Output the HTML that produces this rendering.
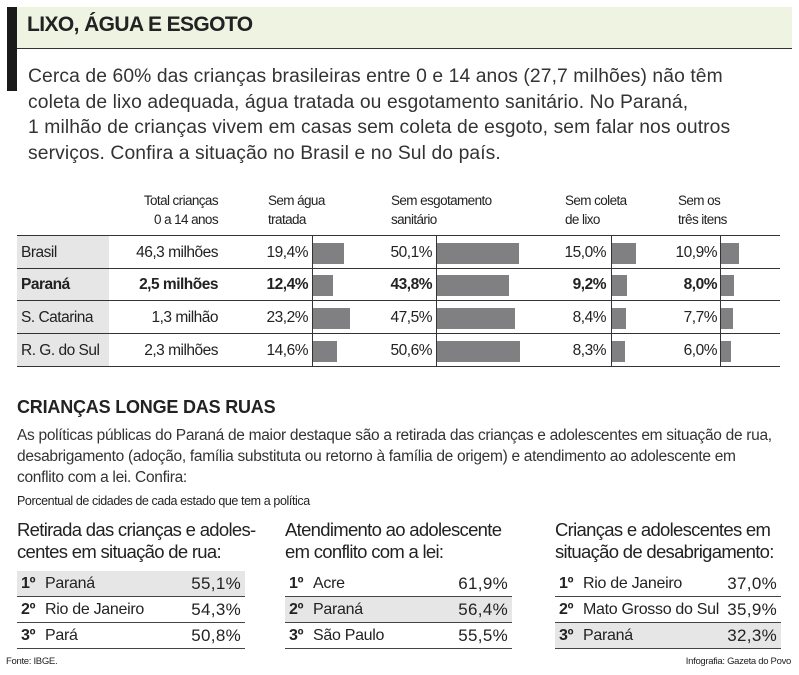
<!DOCTYPE html>
<html><head><meta charset="utf-8"><style>
*{margin:0;padding:0;box-sizing:border-box}
body{width:799px;height:675px;background:#fff;position:relative;overflow:hidden;font-family:"Liberation Sans Narrow","Liberation Sans",sans-serif;color:#222}
.a{position:absolute;white-space:nowrap}
.th{font-size:13.5px;line-height:19px;letter-spacing:-0.6px;color:#222}
.r{text-align:right}
.cell{font-size:15.5px;letter-spacing:-0.5px;line-height:33px}
.bar{position:absolute;background:#808083;height:21px}
.hl{position:absolute;height:1px;background:#333}
.vl{position:absolute;width:1px;background:#333}
.bt{font-size:18.5px;line-height:22px;letter-spacing:-0.7px;color:#222}
.row{position:absolute;height:26px;font-size:16px;line-height:26px;border-bottom:1px solid #444;letter-spacing:-0.3px}
.row b{font-weight:bold;display:inline-block;width:24px;margin-left:4px}
.row span.v{position:absolute;right:4px;font-size:17px;letter-spacing:0.3px}
.g{background:#e6e6e6}
</style></head><body>
<div class="a" style="left:17px;top:7px;width:775px;height:42px;background:#eef3e2;border-bottom:1px solid #333"></div>
<div class="a" style="left:7px;top:7px;width:10px;height:84px;background:#1a1a1a"></div>
<div class="a" style="left:27px;top:13px;font-size:21px;font-weight:bold;letter-spacing:-0.6px;color:#222">LIXO, ÁGUA E ESGOTO</div>
<div class="a" style="left:28px;top:64px;font-family:'Liberation Sans',sans-serif;font-size:19.3px;line-height:25.7px;color:#333;letter-spacing:0.1px">Cerca de 60% das crianças brasileiras entre 0 e 14 anos (27,7 milhões) não têm<br>coleta de lixo adequada, água tratada ou esgotamento sanitário. No Paraná,<br>1 milhão de crianças vivem em casas sem coleta de esgoto, sem falar nos outros<br>serviços. Confira a situação no Brasil e no Sul do país.</div>

<div class="a th r" style="right:581px;top:191px">Total crianças<br>0 a 14 anos</div>
<div class="a th" style="left:268px;top:191px">Sem água<br>tratada</div>
<div class="a th" style="left:391px;top:191px">Sem esgotamento<br>sanitário</div>
<div class="a th" style="left:565px;top:191px">Sem coleta<br>de lixo</div>
<div class="a th" style="left:678px;top:191px">Sem os<br>três itens</div>

<div class="a" style="left:17px;top:235px;width:92px;height:131px;background:#e6e6e6"></div>
<div class="hl" style="left:17px;top:235px;width:763px"></div>
<div class="hl" style="left:17px;top:268px;width:763px"></div>
<div class="hl" style="left:17px;top:300px;width:763px"></div>
<div class="hl" style="left:17px;top:333px;width:763px"></div>
<div class="hl" style="left:17px;top:366px;width:763px"></div>
<div class="vl" style="left:312px;top:235px;height:131px"></div>
<div class="vl" style="left:436px;top:235px;height:131px"></div>
<div class="vl" style="left:611px;top:235px;height:131px"></div>
<div class="vl" style="left:720px;top:235px;height:131px"></div>

<div class="a cell" style="left:21px;top:236px">Brasil</div>
<div class="a cell r" style="right:581px;top:236px">46,3 milhões</div>
<div class="a cell r" style="right:491px;top:236px">19,4%</div>
<div class="a cell r" style="right:367px;top:236px">50,1%</div>
<div class="a cell r" style="right:193px;top:236px">15,0%</div>
<div class="a cell r" style="right:82px;top:236px">10,9%</div>

<div class="a cell" style="left:21px;top:268px;font-weight:bold">Paraná</div>
<div class="a cell r" style="right:581px;top:268px;font-weight:bold">2,5 milhões</div>
<div class="a cell r" style="right:491px;top:268px;font-weight:bold">12,4%</div>
<div class="a cell r" style="right:367px;top:268px;font-weight:bold">43,8%</div>
<div class="a cell r" style="right:193px;top:268px;font-weight:bold">9,2%</div>
<div class="a cell r" style="right:82px;top:268px;font-weight:bold">8,0%</div>

<div class="a cell" style="left:21px;top:301px">S. Catarina</div>
<div class="a cell r" style="right:581px;top:301px">1,3 milhão</div>
<div class="a cell r" style="right:491px;top:301px">23,2%</div>
<div class="a cell r" style="right:367px;top:301px">47,5%</div>
<div class="a cell r" style="right:193px;top:301px">8,4%</div>
<div class="a cell r" style="right:82px;top:301px">7,7%</div>

<div class="a cell" style="left:21px;top:334px">R. G. do Sul</div>
<div class="a cell r" style="right:581px;top:334px">2,3 milhões</div>
<div class="a cell r" style="right:491px;top:334px">14,6%</div>
<div class="a cell r" style="right:367px;top:334px">50,6%</div>
<div class="a cell r" style="right:193px;top:334px">8,3%</div>
<div class="a cell r" style="right:82px;top:334px">6,0%</div>

<div class="bar" style="left:313px;top:243px;width:31px"></div>
<div class="bar" style="left:313px;top:275px;width:20px"></div>
<div class="bar" style="left:313px;top:308px;width:37px"></div>
<div class="bar" style="left:313px;top:341px;width:24px"></div>
<div class="bar" style="left:437px;top:243px;width:82px"></div>
<div class="bar" style="left:437px;top:275px;width:72px"></div>
<div class="bar" style="left:437px;top:308px;width:78px"></div>
<div class="bar" style="left:437px;top:341px;width:83px"></div>
<div class="bar" style="left:612px;top:243px;width:24px"></div>
<div class="bar" style="left:612px;top:275px;width:15px"></div>
<div class="bar" style="left:612px;top:308px;width:14px"></div>
<div class="bar" style="left:612px;top:341px;width:13px"></div>
<div class="bar" style="left:721px;top:243px;width:18px"></div>
<div class="bar" style="left:721px;top:275px;width:13px"></div>
<div class="bar" style="left:721px;top:308px;width:12px"></div>
<div class="bar" style="left:721px;top:341px;width:10px"></div>

<div class="a" style="left:17px;top:397px;font-size:18px;font-weight:bold;letter-spacing:-0.2px;color:#222">CRIANÇAS LONGE DAS RUAS</div>
<div class="a" style="left:17px;top:425px;font-size:15.5px;line-height:21px;letter-spacing:-0.3px;color:#333">As políticas públicas do Paraná de maior destaque são a retirada das crianças e adolescentes em situação de rua,<br>desabrigamento (adoção, família substituta ou retorno à família de origem) e atendimento ao adolescente em<br>conflito com a lei. Confira:</div>
<div class="a" style="left:17px;top:494px;font-size:12.5px;letter-spacing:-0.4px;color:#222">Porcentual de cidades de cada estado que tem a política</div>

<div class="a bt" style="left:17px;top:519px">Retirada das crianças e adoles-<br>centes em situação de rua:</div>
<div class="a bt" style="left:285px;top:519px">Atendimento ao adolescente<br>em conflito com a lei:</div>
<div class="a bt" style="left:555px;top:519px">Crianças e adolescentes em<br>situação de desabrigamento:</div>

<div class="row g" style="left:17px;top:571px;width:228px"><b>1º</b>Paraná<span class="v">55,1%</span></div>
<div class="row" style="left:17px;top:597px;width:228px"><b>2º</b>Rio de Janeiro<span class="v">54,3%</span></div>
<div class="row" style="left:17px;top:623px;width:228px"><b>3º</b>Pará<span class="v">50,8%</span></div>

<div class="row" style="left:285px;top:571px;width:227px"><b>1º</b>Acre<span class="v">61,9%</span></div>
<div class="row g" style="left:285px;top:597px;width:227px"><b>2º</b>Paraná<span class="v">56,4%</span></div>
<div class="row" style="left:285px;top:623px;width:227px"><b>3º</b>São Paulo<span class="v">55,5%</span></div>

<div class="row" style="left:555px;top:571px;width:226px"><b>1º</b>Rio de Janeiro<span class="v">37,0%</span></div>
<div class="row" style="left:555px;top:597px;width:226px"><b>2º</b>Mato Grosso do Sul<span class="v">35,9%</span></div>
<div class="row g" style="left:555px;top:623px;width:226px"><b>3º</b>Paraná<span class="v">32,3%</span></div>

<div class="a" style="left:6px;top:656px;font-size:9.5px;letter-spacing:-0.3px;color:#222">Fonte: IBGE.</div>
<div class="a" style="right:8px;top:656px;font-size:9.5px;letter-spacing:-0.3px;color:#222">Infografia: Gazeta do Povo</div>
</body></html>
